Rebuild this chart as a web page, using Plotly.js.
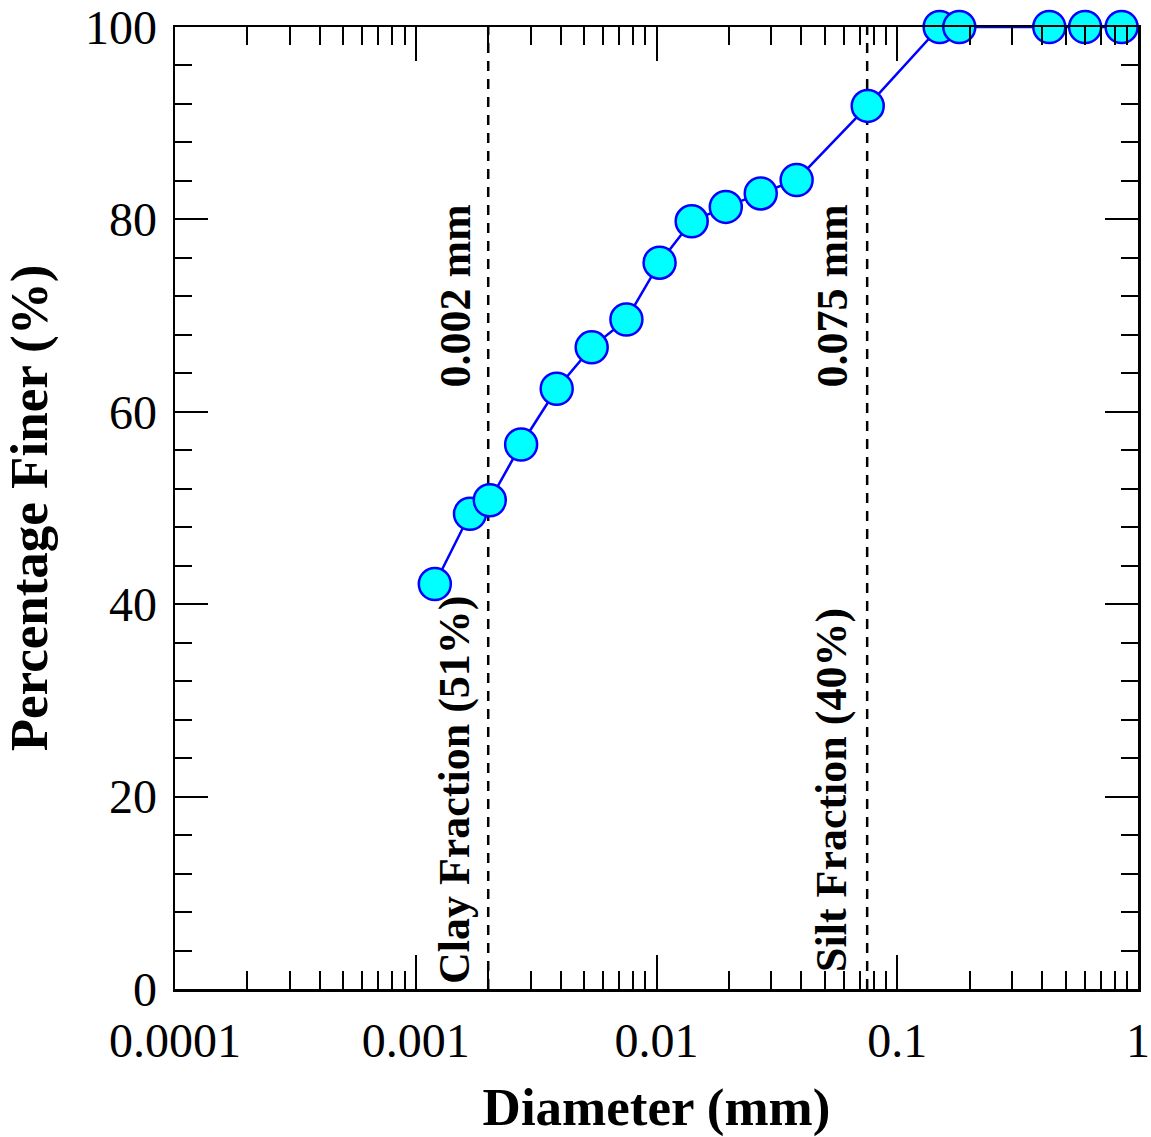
<!DOCTYPE html>
<html>
<head>
<meta charset="utf-8">
<script src="https://cdn.plot.ly/plotly-3.0.1.min.js"></script>
<style>
  html, body { margin: 0; padding: 0; background: #fff; }
  #chart { width: 1151px; height: 1137px; }
</style>
</head>
<body>
<div id="chart"></div>
<script>
// Grain size distribution data
const diameterMm = [0.00120, 0.00168, 0.00203, 0.00274, 0.00385, 0.00538, 0.00750, 0.0103, 0.0140, 0.0194, 0.0271, 0.0382, 0.0754, 0.150, 0.181, 0.428, 0.603, 0.855];
const percentFiner = [42.1, 49.4, 50.8, 56.6, 62.4, 66.7, 69.6, 75.5, 79.8, 81.3, 82.7, 84.1, 91.8, 100, 100, 100, 100, 100];

// Boundary lines and labels
const boundaryMm = [0.002, 0.075];
const boundaryLabels = ["0.002 mm", "0.075 mm"];
const fractionLabels = ["Clay Fraction (51%)", "Silt Fraction (40%)"];

const xTickVals = [0.0001, 0.001, 0.01, 0.1, 1];
const xTickText = ["0.0001", "0.001", "0.01", "0.1", "1"];
const yTickVals = [0, 20, 40, 60, 80, 100];

const FONT = "Liberation Serif, Times New Roman, serif";

const traces = [];
boundaryMm.forEach(function (b) {
  traces.push({
    x: [b, b], y: [0, 100],
    mode: "lines",
    line: { color: "#000", width: 2.5, dash: "10px,8px" },
    hoverinfo: "skip", showlegend: false, cliponaxis: false
  });
});
traces.push({
  x: diameterMm, y: percentFiner,
  mode: "lines+markers",
  line: { color: "#0000FF", width: 2.5 },
  marker: { size: 32, color: "#00FFFF", line: { color: "#0000FF", width: 2.5 } },
  cliponaxis: false, showlegend: false
});

const annotations = [];
const shifts = [-33, -35];
const ANN_FONT = { family: FONT, size: 44, color: "#000", weight: "bold" };
boundaryMm.forEach(function (b, i) {
  annotations.push({
    x: Math.log10(b), xref: "x", y: 0.72, yref: "paper",
    xshift: shifts[i], text: boundaryLabels[i], textangle: -90,
    showarrow: false, xanchor: "center", yanchor: "middle",
    font: ANN_FONT
  });
  annotations.push({
    x: Math.log10(b), xref: "x", y: 0.207, yref: "paper",
    xshift: shifts[i], text: fractionLabels[i], textangle: -90,
    showarrow: false, xanchor: "center", yanchor: "middle",
    font: ANN_FONT
  });
});

const layout = {
  width: 1151, height: 1137,
  margin: { l: 175, r: 13, t: 27, b: 148 },
  paper_bgcolor: "#fff", plot_bgcolor: "#fff",
  font: { family: FONT, color: "#000" },
  xaxis: {
    type: "log", range: [-4, 0],
    tickmode: "array", tickvals: xTickVals, ticktext: xTickText,
    ticks: "inside", ticklen: 34, tickwidth: 2, tickcolor: "#000",
    ticklabelstandoff: 8,
    minor: { ticks: "inside", ticklen: 18, tickwidth: 2, tickcolor: "#000", dtick: "D1", showgrid: false },
    showline: true, linecolor: "#000", linewidth: 2.5, mirror: "ticks",
    showgrid: false, zeroline: false,
    tickfont: { family: FONT, size: 48, color: "#000" },
    title: { text: "Diameter (mm)", font: { family: FONT, size: 53, color: "#000", weight: "bold" }, standoff: 22 }
  },
  yaxis: {
    range: [0, 100],
    tickmode: "array", tickvals: yTickVals,
    ticks: "inside", ticklen: 33, tickwidth: 2, tickcolor: "#000",
    ticklabelstandoff: 6,
    minor: { ticks: "inside", ticklen: 17, tickwidth: 2, tickcolor: "#000", dtick: 4, showgrid: false },
    showline: true, linecolor: "#000", linewidth: 2.5, mirror: "ticks",
    showgrid: false, zeroline: false,
    tickfont: { family: FONT, size: 48, color: "#000" },
    title: { text: "Percentage Finer (%)", font: { family: FONT, size: 53, color: "#000", weight: "bold" }, standoff: 22 }
  },
  annotations: annotations
};

Plotly.newPlot("chart", traces, layout, { displayModeBar: false, staticPlot: true });
</script>
</body>
</html>
